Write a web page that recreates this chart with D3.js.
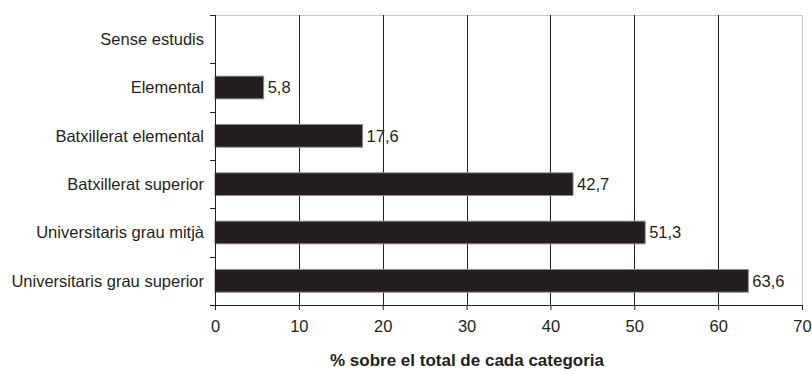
<!DOCTYPE html>
<html>
<head>
<meta charset="utf-8">
<script src="https://cdn.jsdelivr.net/npm/d3@7"></script>
<style>
  body { margin: 0; background: #fff; }
  svg text { font-family: "Liberation Sans", Arial, sans-serif; fill: #231f20; }
</style>
</head>
<body>
<svg id="chart" width="812" height="371"></svg>
<script>
'use strict';

var categories = ['Sense estudis', 'Elemental', 'Batxillerat elemental', 'Batxillerat superior',
  'Universitaris grau mitjà', 'Universitaris grau superior'];
var values = [null, 5.8, 17.6, 42.7, 51.3, 63.6];
var xTicks = [0, 10, 20, 30, 40, 50, 60, 70];
var axisTitle = '% sobre el total de cada categoria';

var margin = { top: 15, right: 10, bottom: 65, left: 215 };
var width = 802 - margin.left;
var height = 305 - margin.top;
var FONT = '16.5px';

var svg = d3.select('#chart');
var g = svg.append('g')
  .attr('transform', 'translate(' + margin.left + ',' + margin.top + ')');

var x = d3.scaleLinear().domain([0, 70]).range([0, width]);
var y = d3.scaleBand().domain(categories).range([0, height]).paddingInner(0.53).paddingOuter(0.265);
var yBand = d3.scaleBand().domain(categories).range([0, height]);

// plot border (light grey)
g.append('rect')
  .attr('x', 0.5).attr('y', 0.5)
  .attr('width', width).attr('height', height)
  .style('fill', 'none')
  .style('stroke', '#c8c8c8')
  .style('stroke-width', 1);

// gridlines
g.selectAll('line.grid')
  .data(xTicks.filter(function(d) { return d > 0 && d < 70; }))
  .enter()
  .append('line')
  .attr('x1', function(d) { return Math.round(x(d)) + 0.5; })
  .attr('x2', function(d) { return Math.round(x(d)) + 0.5; })
  .attr('y1', 0)
  .attr('y2', height)
  .style('stroke', '#231f20')
  .style('stroke-width', 1);

// bars
var data = categories.map(function(c, i) { return { cat: c, value: values[i] }; })
  .filter(function(d) { return d.value != null; });

g.selectAll('rect.bar')
  .data(data)
  .enter()
  .append('rect')
  .attr('x', 0)
  .attr('y', function(d) { return y(d.cat); })
  .attr('width', function(d) { return x(d.value); })
  .attr('height', y.bandwidth())
  .style('fill', '#231f20')
  .style('stroke', '#8a8a8a')
  .style('stroke-width', 1)
  .classed('bar', true);

// value labels
g.selectAll('text.val')
  .data(data)
  .enter()
  .append('text')
  .attr('x', function(d) { return x(d.value) + 4; })
  .attr('y', function(d) { return y(d.cat) + y.bandwidth() / 2; })
  .attr('dy', '0.36em')
  .style('font-size', FONT)
  .text(function(d) { return String(d.value).replace('.', ','); })
  .classed('val', true);

// x axis
var xAxis = g.append('g')
  .attr('transform', 'translate(0,' + height + ')')
  .call(d3.axisBottom(x).tickValues(xTicks).tickSize(5).tickSizeOuter(0));
xAxis.select('.domain').style('stroke', '#231f20');
xAxis.selectAll('.tick line').style('stroke', '#231f20');
xAxis.selectAll('.tick text')
  .attr('y', 15)
  .style('font-size', FONT)
  .style('font-family', '"Liberation Sans", Arial, sans-serif')
  .style('fill', '#231f20');

// y axis: ticks between categories
g.append('line')
  .attr('x1', 0.5).attr('x2', 0.5)
  .attr('y1', 0).attr('y2', height)
  .style('stroke', '#231f20');
var bounds = categories.map(function(c) { return yBand(c); }).concat([height]);
g.selectAll('line.ytick')
  .data(bounds)
  .enter()
  .append('line')
  .attr('x1', -5).attr('x2', 0)
  .attr('y1', function(d) { return Math.round(d) + 0.5; })
  .attr('y2', function(d) { return Math.round(d) + 0.5; })
  .style('stroke', '#231f20')
  .classed('ytick', true);

g.selectAll('text.cat')
  .data(categories)
  .enter()
  .append('text')
  .attr('x', -11)
  .attr('y', function(d) { return yBand(d) + yBand.bandwidth() / 2; })
  .attr('dy', '0.36em')
  .attr('text-anchor', 'end')
  .style('font-size', FONT)
  .text(function(d) { return d; })
  .classed('cat', true);

// axis title
svg.append('text')
  .attr('x', 467)
  .attr('y', 366)
  .attr('text-anchor', 'middle')
  .style('font-size', '17px')
  .style('font-weight', 'bold')
  .text(axisTitle);
</script>
</body>
</html>
